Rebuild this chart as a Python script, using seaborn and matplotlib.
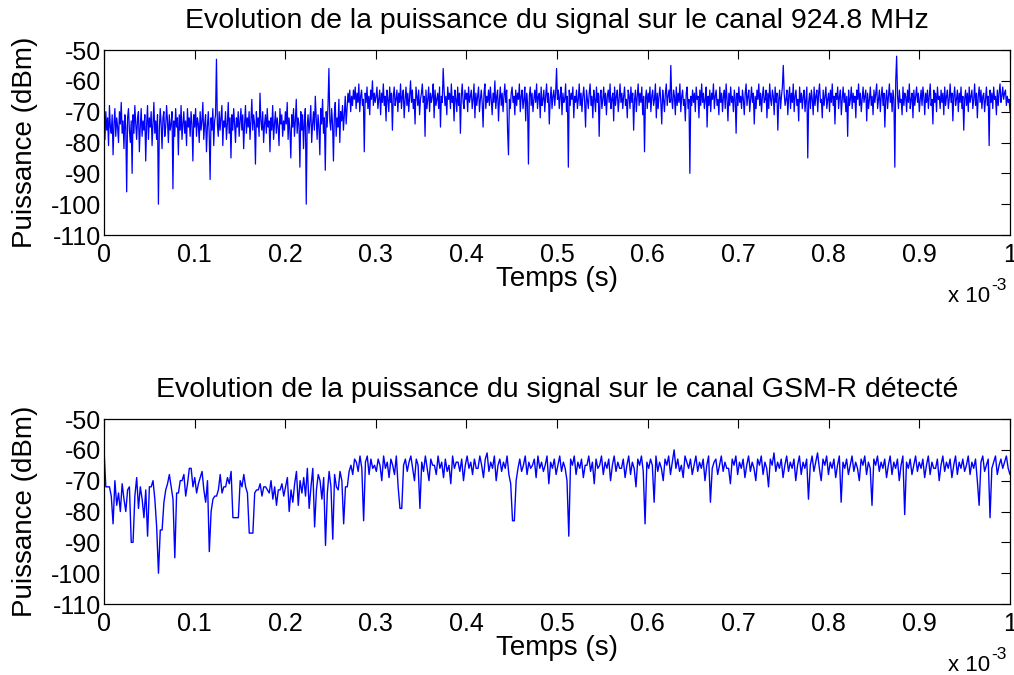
import numpy as np
import pandas as pd
import matplotlib
matplotlib.use("Agg")
import matplotlib.pyplot as plt
import seaborn as sns
from matplotlib.ticker import FuncFormatter

# ---- data (dBm) ----
top_title = "Evolution de la puissance du signal sur le canal 924.8 MHz"
bottom_title = "Evolution de la puissance du signal sur le canal GSM-R détecté"
x_label = "Temps (s)"
y_label = "Puissance (dBm)"
x_ticks = [0, 0.1, 0.2, 0.3, 0.4, 0.5, 0.6, 0.7, 0.8, 0.9, 1]
y_ticks = [-110, -100, -90, -80, -70, -60, -50]

power_924_8 = [
    -73,-79,-70,-76,-72,-81,-68,-75,-77,-71,-84,-74,-69,-78,-72,-75,-80,-70,-74,-67,-77,-73,-82,-71,-75,
    -96,-72,-69,-76,-80,-73,-90,-71,-77,-68,-74,-79,-72,-70,-83,-75,-69,-78,-73,-76,-71,-86,-74,-68,-79,
    -72,-75,-70,-81,-74,-67,-77,-73,-79,-71,-100,-76,-69,-74,-82,-72,-70,-78,-75,-68,-73,-80,-71,-76,-74,
    -70,-95,-73,-78,-69,-75,-72,-84,-71,-76,-68,-79,-74,-70,-77,-73,-81,-69,-75,-72,-78,-70,-74,-86,-71,
    -75,-69,-78,-72,-74,-80,-70,-76,-73,-67,-79,-74,-71,-83,-75,-70,-77,-92,-72,-76,-69,-81,-73,-71,-53,
    -74,-78,-70,-76,-72,-68,-81,-73,-75,-70,-79,-74,-67,-77,-72,-85,-71,-76,-69,-74,-80,-72,-75,-70,-78,
    -73,-69,-76,-71,-82,-74,-68,-77,-72,-75,-70,-79,-73,-66,-76,-71,-74,-87,-70,-75,-72,-78,-64,-73,-76,
    -70,-80,-74,-71,-77,-69,-75,-73,-83,-72,-76,-68,-79,-74,-70,-77,-72,-75,-81,-69,-74,-71,-78,-73,-76,
    -70,-74,-67,-79,-72,-76,-85,-71,-75,-69,-78,-73,-66,-77,-72,-74,-88,-70,-76,-71,-82,-73,-69,-100,-75,
    -71,-77,-73,-68,-80,-74,-70,-76,-65,-72,-79,-71,-75,-84,-69,-74,-66,-77,-72,-89,-70,-75,-68,-56,-73,
    -76,-69,-74,-86,-71,-67,-78,-72,-75,-66,-80,-70,-73,-68,-76,-71,-65,-74,-69,-64,-67,-63,-70,-65,-68,
    -63,-66,-62,-69,-64,-67,-61,-70,-65,-63,-68,-66,-83,-64,-67,-62,-69,-65,-71,-63,-66,-60,-68,-64,-67,
    -65,-62,-69,-66,-63,-71,-64,-67,-61,-68,-65,-73,-63,-66,-70,-62,-67,-64,-76,-65,-62,-68,-66,-63,-70,
    -64,-67,-61,-69,-65,-63,-72,-66,-62,-68,-64,-70,-65,-60,-67,-63,-69,-66,-74,-62,-65,-68,-63,-71,-66,
    -64,-61,-67,-65,-78,-63,-69,-66,-62,-70,-64,-67,-65,-61,-72,-63,-68,-66,-64,-69,-62,-75,-65,-67,-56,
    -63,-68,-65,-71,-62,-66,-64,-69,-61,-67,-65,-73,-63,-66,-70,-62,-68,-64,-77,-65,-61,-67,-69,-63,-66,
    -64,-70,-62,-67,-65,-63,-69,-66,-61,-72,-64,-68,-65,-62,-70,-66,-63,-67,-75,-64,-61,-69,-65,-67,-63,
    -68,-62,-66,-71,-64,-67,-60,-69,-65,-63,-73,-66,-62,-68,-64,-70,-65,-61,-67,-63,-76,-84,-66,-69,-64,
    -62,-67,-65,-71,-63,-68,-64,-66,-61,-70,-65,-63,-69,-66,-62,-73,-64,-67,-87,-65,-62,-68,-64,-70,-66,
    -63,-67,-61,-69,-65,-64,-72,-62,-68,-66,-63,-70,-65,-61,-67,-64,-74,-66,-62,-69,-65,-63,-68,-64,-56,
    -66,-63,-69,-65,-62,-71,-64,-67,-66,-61,-70,-65,-88,-63,-68,-64,-66,-62,-72,-65,-67,-63,-69,-66,-61,
    -68,-64,-70,-65,-62,-67,-75,-63,-66,-69,-64,-61,-68,-65,-72,-63,-66,-70,-62,-67,-64,-78,-65,-63,-69,
    -66,-62,-68,-64,-71,-65,-63,-67,-61,-69,-66,-64,-73,-62,-68,-65,-63,-70,-66,-61,-67,-64,-69,-65,-62,
    -68,-66,-72,-63,-65,-69,-62,-67,-64,-76,-66,-63,-70,-65,-61,-68,-64,-67,-62,-71,-65,-83,-66,-63,-69,
    -64,-67,-62,-70,-65,-63,-68,-66,-61,-72,-64,-69,-65,-62,-67,-74,-63,-66,-70,-64,-61,-68,-65,-63,-67,
    -55,-66,-69,-63,-65,-71,-62,-68,-64,-67,-61,-70,-65,-63,-68,-66,-73,-64,-62,-69,-66,-90,-65,-68,-63,
    -67,-64,-70,-62,-66,-65,-72,-63,-68,-61,-67,-64,-69,-66,-62,-75,-65,-68,-63,-70,-64,-66,-61,-69,-65,
    -63,-68,-66,-71,-62,-67,-64,-70,-65,-63,-69,-61,-66,-73,-64,-68,-62,-67,-65,-70,-63,-66,-77,-64,-68,
    -62,-67,-65,-69,-63,-66,-71,-64,-61,-68,-65,-63,-70,-66,-62,-67,-64,-74,-65,-69,-63,-66,-61,-68,-64,
    -70,-65,-62,-67,-66,-63,-72,-64,-69,-61,-66,-68,-63,-65,-71,-62,-67,-64,-76,-66,-63,-69,-65,-62,-55,
    -64,-68,-66,-63,-71,-65,-62,-69,-64,-67,-61,-70,-65,-63,-68,-66,-73,-62,-67,-64,-69,-65,-63,-70,-66,
    -62,-85,-67,-64,-69,-63,-66,-71,-62,-68,-65,-63,-70,-64,-61,-67,-66,-72,-63,-68,-65,-62,-69,-66,-64,
    -70,-63,-67,-61,-68,-65,-74,-64,-66,-62,-69,-65,-63,-71,-66,-62,-67,-64,-70,-65,-78,-63,-68,-66,-62,
    -69,-64,-67,-65,-72,-63,-66,-61,-68,-64,-70,-66,-62,-67,-65,-63,-73,-64,-69,-66,-62,-68,-65,-71,-63,
    -67,-64,-61,-69,-66,-63,-70,-65,-62,-68,-64,-75,-66,-63,-69,-65,-61,-67,-64,-70,-63,-66,-88,-60,-52,
    -65,-69,-63,-67,-66,-71,-62,-68,-64,-65,-70,-63,-67,-61,-69,-66,-64,-72,-63,-68,-65,-62,-67,-64,-70,
    -66,-63,-68,-62,-65,-71,-64,-67,-63,-69,-65,-61,-68,-66,-74,-63,-67,-64,-70,-62,-66,-65,-69,-63,-67,
    -64,-71,-62,-68,-65,-63,-69,-66,-61,-67,-64,-73,-65,-62,-68,-66,-63,-70,-64,-67,-62,-69,-65,-76,-66,
    -63,-68,-64,-70,-62,-67,-65,-63,-69,-66,-61,-68,-64,-72,-65,-62,-67,-63,-69,-65,-64,-70,-66,-62,-68,
    -65,-81,-63,-67,-64,-69,-62,-66,-65,-71,-63,-68,-64,-61,-67,-65,-62,-66,-64,-63,-68,-65,-67,-66,-70,
]

power_gsmr = [
    -60,-72,-72,-72,-75,-84,-70,-78,-74,-80,-71,-76,-80,-73,-72,-90,-90,-75,-69,-79,-72,-76,-82,-73,-88,
    -72,-72,-70,-76,-85,-100,-86,-86,-77,-73,-71,-68,-72,-76,-95,-74,-74,-70,-70,-68,-75,-71,-66,-66,-72,
    -69,-74,-71,-69,-67,-73,-77,-70,-93,-80,-76,-75,-75,-73,-68,-74,-72,-72,-69,-71,-67,-82,-82,-82,-82,
    -70,-72,-68,-72,-74,-87,-87,-87,-74,-73,-73,-71,-75,-72,-72,-73,-74,-70,-76,-72,-78,-73,-73,-71,-75,
    -72,-69,-80,-73,-77,-71,-67,-78,-70,-74,-69,-75,-66,-79,-72,-66,-85,-73,-68,-70,-76,-69,-91,-74,-67,
    -72,-89,-68,-72,-73,-67,-70,-84,-72,-72,-67,-65,-68,-63,-64,-67,-62,-66,-83,-64,-62,-68,-63,-66,-65,
    -67,-63,-65,-70,-62,-66,-64,-69,-63,-65,-68,-62,-72,-79,-79,-65,-63,-67,-64,-62,-66,-70,-63,-65,-79,
    -64,-67,-62,-66,-70,-63,-65,-65,-68,-62,-66,-64,-69,-63,-67,-65,-71,-62,-66,-64,-64,-67,-63,-70,-65,
    -62,-66,-64,-68,-63,-66,-66,-62,-65,-69,-63,-61,-67,-64,-66,-62,-70,-65,-63,-67,-64,-66,-62,-68,-71,
    -83,-83,-70,-66,-63,-67,-65,-62,-68,-64,-66,-65,-63,-69,-62,-66,-64,-67,-65,-62,-71,-64,-66,-63,-68,
    -65,-62,-67,-64,-66,-70,-88,-63,-65,-62,-68,-64,-66,-63,-69,-65,-65,-62,-67,-64,-71,-63,-66,-65,-62,
    -68,-64,-66,-63,-70,-65,-62,-67,-64,-66,-66,-63,-69,-65,-62,-68,-64,-66,-72,-63,-65,-62,-67,-84,-64,
    -66,-63,-65,-77,-62,-67,-64,-66,-70,-63,-65,-62,-68,-64,-60,-66,-63,-67,-65,-69,-62,-64,-66,-63,-68,
    -65,-62,-67,-64,-66,-63,-70,-65,-62,-77,-66,-64,-63,-68,-65,-62,-67,-64,-66,-66,-71,-63,-65,-62,-68,
    -64,-66,-63,-69,-65,-62,-67,-64,-66,-70,-63,-65,-62,-68,-64,-66,-72,-63,-65,-61,-67,-64,-66,-63,-69,
    -65,-62,-67,-64,-66,-63,-70,-65,-62,-68,-64,-66,-63,-76,-65,-62,-67,-64,-61,-66,-70,-63,-65,-62,-68,
    -64,-66,-63,-69,-65,-62,-77,-64,-66,-63,-68,-65,-62,-67,-64,-66,-70,-63,-65,-62,-68,-64,-66,-78,-63,
    -65,-62,-67,-64,-66,-63,-69,-65,-62,-68,-64,-66,-63,-70,-65,-62,-81,-64,-66,-63,-68,-65,-62,-67,-64,
    -66,-63,-69,-65,-62,-68,-64,-66,-66,-63,-70,-65,-62,-67,-64,-66,-63,-69,-65,-62,-68,-64,-66,-63,-67,
    -65,-62,-68,-64,-66,-63,-70,-78,-64,-62,-67,-65,-63,-82,-66,-64,-62,-68,-65,-63,-66,-64,-62,-66,-68,
]

t_end = 1e-3  # seconds

# ---- style ----
sns.set_theme(style="white")
plt.rcParams["font.family"] = ["Liberation Sans", "DejaVu Sans"]
plt.rcParams["axes.unicode_minus"] = False

W, H = 1014, 675
fig = plt.figure(figsize=(W / 100, H / 100), dpi=100)
ax1 = fig.add_axes([104 / W, 1 - 235 / H, (1010 - 104) / W, 185 / H])
ax2 = fig.add_axes([104 / W, 1 - 604 / H, (1010 - 104) / W, 185 / H])

tick_fs = 18
label_fs = 20
panels = [(ax1, power_924_8, top_title, 0.9, 0), (ax2, power_gsmr, bottom_title, 1.0, 369)]
for ax, vals, title, lw, dy in panels:
    t = np.linspace(0, t_end, len(vals))
    df = pd.DataFrame({"t": t, "p": vals})
    sns.lineplot(data=df, x="t", y="p", ax=ax, color="#0000ff", linewidth=lw,
                 estimator=None, sort=False)
    ax.set_xlim(0, t_end)
    ax.set_ylim(-110, -50)
    ax.set_xticks([v * 1e-3 for v in x_ticks])
    ax.xaxis.set_major_formatter(FuncFormatter(lambda v, p: f"{v*1e3:g}"))
    ax.set_yticks(y_ticks)
    ax.tick_params(direction="in", length=6.5, width=0.8, top=True, right=True,
                   labelsize=tick_fs, colors="black")
    ax.tick_params(axis="x", pad=6)
    ax.tick_params(axis="y", pad=2)
    for s in ax.spines.values():
        s.set_color("black")
        s.set_linewidth(0.9)
    ax.set_title(title, fontsize=label_fs + 0.5, pad=15.5, color="black")
    ax.set_xlabel(x_label, fontsize=label_fs, labelpad=-1, color="black")
    ax.set_ylabel(y_label, fontsize=label_fs, labelpad=9, color="black")
    fig.text(948 / W, 1 - (302 + dy) / H, "x 10", fontsize=16, va="baseline",
             ha="left", color="black")
    fig.text(991 / W, 1 - (290 + dy) / H, "-3", fontsize=12.5, va="baseline",
             ha="left", color="black")

fig.savefig("out.png", dpi=100)
